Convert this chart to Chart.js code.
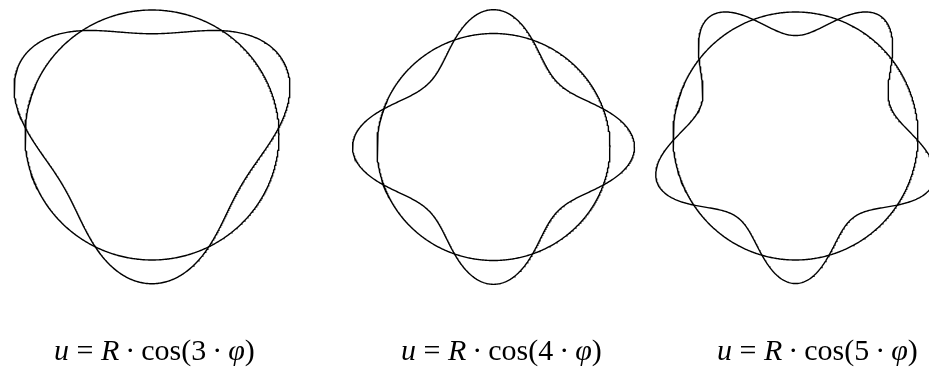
<!DOCTYPE html>
<html>
<head>
<meta charset="utf-8">
<script src="https://cdn.jsdelivr.net/npm/chart.js@4"></script>
<style>
  html, body { margin: 0; padding: 0; background: #fff; overflow: hidden; }
  #wrap { position: relative; width: 929px; height: 369px; }
  canvas { position: absolute; left: 0; top: 0; }
  .cap {
    position: absolute; top: 335px; white-space: nowrap;
    font-family: "Liberation Serif", "Times New Roman", serif;
    font-size: 30px; line-height: 30px; color: #000;
  }
  .cap i { font-style: italic; }
</style>
</head>
<body>
<div id="wrap">
  <canvas id="ring0" width="929" height="369"></canvas>
  <canvas id="ring1" width="929" height="369"></canvas>
  <canvas id="ring2" width="929" height="369"></canvas>
  <div class="cap" id="cap0"></div>
  <div class="cap" id="cap1"></div>
  <div class="cap" id="cap2"></div>
</div>
<script>
// mode numbers of the ring shapes, u = R*cos(n*phi)
const modes = [3, 4, 5];
// deflection amplitude relative to ring radius R
const amplitudes = [0.19, 0.21, 0.19];
const ringRadius = 1;

// placement of each ring on the page (px)
const layout = [
    { cx: 152, cy: 135, rx: 127, ry: 125, capLeft: 54 },
    { cx: 493.5, cy: 147, rx: 116.5, ry: 113.5, capLeft: 401 },
    { cx: 795.5, cy: 136, rx: 122.5, ry: 124, capLeft: 717 }
];

const W = 929, H = 369;
const steps = 720;

function circlePoints() {
    let pts = [];
    for (let i = 0; i <= steps; i++) {
        let t = 2 * Math.PI * i / steps;
        pts.push({ x: ringRadius * Math.cos(t), y: ringRadius * Math.sin(t) });
    }
    return pts;
}

// radial u plus the matching tangential v of an inextensible ring
function modePoints(n, a) {
    let pts = [];
    for (let i = 0; i <= steps; i++) {
        let t = 2 * Math.PI * i / steps;
        let psi = t + Math.PI / 2;
        let u = a * Math.cos(n * psi);
        let v = -(a / n) * Math.sin(n * psi);
        let r = ringRadius + u;
        pts.push({
            x: r * Math.cos(t) - v * Math.sin(t),
            y: r * Math.sin(t) + v * Math.cos(t)
        });
    }
    return pts;
}

for (let k = 0; k < modes.length; k++) {
    let L = layout[k];
    new Chart(document.getElementById('ring' + k), {
        type: 'scatter',
        data: {
            datasets: [
                {
                    data: circlePoints(),
                    showLine: true,
                    borderColor: '#000',
                    borderWidth: 1.4,
                    pointRadius: 0,
                    tension: 0
                },
                {
                    data: modePoints(modes[k], amplitudes[k]),
                    showLine: true,
                    borderColor: '#000',
                    borderWidth: 1.4,
                    pointRadius: 0,
                    tension: 0
                }
            ]
        },
        options: {
            responsive: false,
            animation: false,
            events: [],
            layout: { padding: 0 },
            scales: {
                x: { type: 'linear', display: false, min: -L.cx / L.rx, max: (W - L.cx) / L.rx },
                y: { type: 'linear', display: false, min: -(H - L.cy) / L.ry, max: L.cy / L.ry }
            },
            plugins: {
                legend: { display: false },
                tooltip: { enabled: false }
            }
        }
    });

    let cap = document.getElementById('cap' + k);
    cap.style.left = L.capLeft + 'px';
    cap.innerHTML = '<i>u</i> = <i>R</i>\u2009\u00b7\u2009cos(' + modes[k] + '\u2009\u00b7\u2009<i>\u03c6</i>)';
}
</script>
</body>
</html>
